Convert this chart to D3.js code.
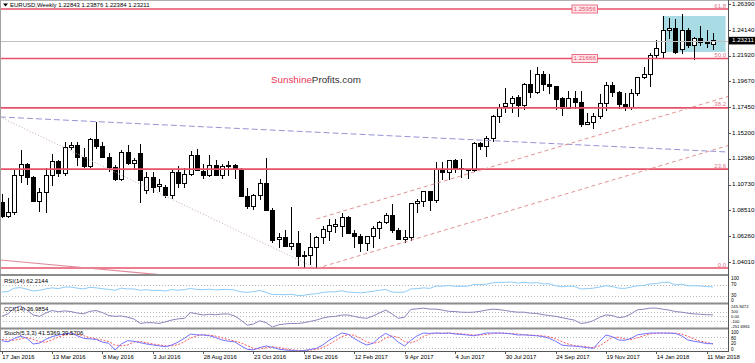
<!DOCTYPE html>
<html>
<head>
<meta charset="utf-8">
<script src="https://cdn.jsdelivr.net/npm/d3@7"></script>
<style>
  html, body { margin: 0; padding: 0; background: #fff; }
  svg { display: block; font-family: "Liberation Sans", Arial, sans-serif; }
</style>
</head>
<body>
<div id="chart"></div>
<script>
// EURUSD weekly bars, 17 Jan 2016 .. 18 Mar 2018 (114 bars)
const opens = [1.0915,1.0795,1.0830,1.1155,1.1250,1.1130,1.0930,1.1000,1.1155,1.1270,
  1.1165,1.1395,1.1415,1.1305,1.1225,1.1460,1.1400,1.1310,1.1220,1.1120,
  1.1355,1.1255,1.1338,1.1020,1.1135,1.1055,1.1045,1.0980,1.1175,1.1085,
  1.1160,1.1325,1.1190,1.1155,1.1235,1.1155,1.1225,1.1240,1.1200,1.0970,
  1.0880,1.0980,1.1085,1.0845,1.0592,1.0610,1.0535,1.0560,1.0450,1.0460,
  1.0525,1.0615,1.0665,1.0710,1.0705,1.0790,1.0645,1.0625,1.0565,1.0620,
  1.0690,1.0745,1.0805,1.0670,1.0595,1.0615,1.0905,1.0925,1.1010,1.0935,
  1.1205,1.1180,1.1280,1.1210,1.1200,1.1195,1.1425,1.1400,1.1475,1.1665,
  1.1750,1.1775,1.1830,1.1760,1.1940,1.1875,1.2025,1.1940,1.1920,1.1815,
  1.1735,1.1815,1.1785,1.1595,1.1610,1.1660,1.1775,1.1935,1.1870,1.1770,
  1.1745,1.1860,1.2000,1.2025,1.2195,1.2215,1.2410,1.2430,1.2245,1.2410,
  1.2283,1.2344,1.2309,1.22843];
const highs = [1.0990,1.0960,1.1200,1.1376,1.1260,1.1150,1.1045,1.1218,1.1342,1.1290,
  1.1440,1.1440,1.1440,1.1390,1.1475,1.1615,1.1445,1.1350,1.1245,1.1375,
  1.1415,1.1300,1.1428,1.1180,1.1185,1.1120,1.1070,1.1195,1.1235,1.1220,
  1.1365,1.1380,1.1250,1.1330,1.1285,1.1255,1.1280,1.1250,1.1215,1.1040,
  1.0990,1.1125,1.1300,1.0870,1.0650,1.0680,1.0874,1.0670,1.0500,1.0655,
  1.0630,1.0715,1.0775,1.0775,1.0830,1.0800,1.0680,1.0640,1.0630,1.0715,
  1.0760,1.0830,1.0905,1.0700,1.0680,1.0915,1.0950,1.1020,1.1020,1.1265,
  1.1270,1.1285,1.1295,1.1295,1.1210,1.1445,1.1445,1.1490,1.1680,1.1775,
  1.1910,1.1845,1.1850,1.1950,1.2070,1.2090,1.2055,1.2035,1.1930,1.1830,
  1.1880,1.1880,1.1880,1.1690,1.1690,1.1860,1.1960,1.1960,1.1880,1.1865,
  1.1905,1.2010,1.2090,1.2215,1.2325,1.2538,1.2520,1.2505,1.2555,1.2435,
  1.2355,1.2445,1.2410,1.23876];
const lows = [1.0780,1.0780,1.0810,1.1090,1.1070,1.0920,1.0835,1.0822,1.1060,1.1140,
  1.1145,1.1370,1.1235,1.1215,1.1215,1.1385,1.1300,1.1185,1.1100,1.1100,
  1.1240,1.1210,1.0912,1.0990,1.1000,1.1005,1.0955,1.0950,1.1045,1.1045,
  1.1150,1.1190,1.1120,1.1140,1.1150,1.1120,1.1150,1.1125,1.0965,1.0860,
  1.0855,1.0940,1.0840,1.0570,1.0518,1.0530,1.0505,1.0365,1.0352,1.0375,
  1.0340,1.0560,1.0580,1.0655,1.0620,1.0640,1.0520,1.0490,1.0495,1.0525,
  1.0600,1.0730,1.0650,1.0590,1.0570,1.0580,1.0825,1.0880,1.0840,1.0915,
  1.1110,1.1110,1.1170,1.1130,1.1120,1.1180,1.1370,1.1310,1.1440,1.1610,
  1.1690,1.1690,1.1660,1.1720,1.1825,1.1860,1.1880,1.1860,1.1720,1.1670,
  1.1730,1.1730,1.1575,1.1590,1.1555,1.1640,1.1715,1.1830,1.1730,1.1715,
  1.1720,1.1845,1.1990,1.1915,1.2165,1.2165,1.2335,1.2205,1.2205,1.2260,
  1.2155,1.2275,1.2257,1.22384];
const closes = [1.0795,1.0830,1.1155,1.1250,1.1130,1.0930,1.1000,1.1155,1.1270,1.1165,
  1.1395,1.1415,1.1305,1.1225,1.1460,1.1400,1.1310,1.1220,1.1120,1.1355,
  1.1255,1.1285,1.1110,1.1135,1.1050,1.1070,1.0980,1.1175,1.1085,1.1160,
  1.1325,1.1195,1.1155,1.1235,1.1155,1.1225,1.1240,1.1200,1.0970,1.0880,
  1.0980,1.1085,1.0845,1.0590,1.0610,1.0535,1.0560,1.0450,1.0460,1.0525,
  1.0610,1.0680,1.0715,1.0725,1.0790,1.0650,1.0625,1.0565,1.0620,1.0690,
  1.0745,1.0805,1.0670,1.0595,1.0615,1.0905,1.0925,1.1010,1.0935,1.1205,
  1.1180,1.1280,1.1210,1.1200,1.1195,1.1425,1.1400,1.1475,1.1665,1.1745,
  1.1775,1.1820,1.1760,1.1940,1.1875,1.2025,1.1940,1.1925,1.1810,1.1735,
  1.1815,1.1785,1.1590,1.1612,1.1660,1.1775,1.1935,1.1870,1.1770,1.1745,
  1.1860,1.2000,1.2025,1.2195,1.2255,1.2410,1.2430,1.2215,1.2410,1.2283,
  1.2344,1.2309,1.2292,1.23211];

// indicator readings, one per bar
const rsi = [43,45,58,60,54,47,50,55,59,56, 62,62,58,55,61,59,56,53,50,58,
  55,55,50,52,49,50,47,53,50,52, 57,53,52,54,51,53,53,51,44,42,
  45,49,42,34,34,33,35,30,31,35, 37,42,44,44,48,43,42,40,43,46,
  50,53,43,42,43,55,56,59,57,66, 65,68,65,65,65,72,71,73,78,80,
  80,81,77,80,77,79,74,74,67,63, 66,64,55,56,58,62,67,64,58,57,
  62,67,68,74,75,80,80,70,73,67, 67,66,64,62.2144];
const cci = [0,60,200,245.9472,150,34,0,80,138,110, 130,114,80,60,120,138,90,20,0,10,
  -20,-60,-168,-150,-150,-168,-130,-87,-60,-46, 90,60,34,50,40,55,58,10,-87,-209,
  -180,-104,-150,-251.6961,-200,-180,-168,-170,-150,-120, -87,-40,-10,0,30,34,0,-30,-46,10,
  80,150,60,-46,-20,165,180,196,172,172, 150,120,114,100,95,100,120,150,172,160,
  140,114,100,100,75,70,40,20,0,-30, -60,-90,-168,-150,-100,-20,34,20,-30,-10,
  60,155,170,196,196,170,150,114,100,75, 60,50,40,36.9854];
const stochMain = [58,52,70,83,71,40,45,65,80,89, 95,100,85,71,68,65,50,44,7,40,
  58,55,47,40,35,30,25,34,50,71, 94,90,89,85,75,62,55,52,30,11,
  8,20,29,22,12,7,5,2,4,10, 16,34,60,80,100,94,70,50,34,44,
  75,98,80,50,29,60,85,100,98,100, 98,100,95,92,89,85,92,100,100,100,
  98,95,89,90,87,85,80,71,55,34, 30,28,25,20,16,55,89,80,62,60,
  71,90,95,100,100,100,99,98,85,62, 55,49,42,41.5369];
const stochSignal = [65,62,60,68,75,65,52,50,63,78, 88,94,93,85,75,68,61,53,34,30,
  35,51,53,47,40,35,30,30,36,52, 72,85,91,88,83,74,64,56,46,31,
  16,13,19,24,21,14,8,5,4,7, 10,20,37,58,80,91,88,71,51,43,
  51,72,84,76,53,46,58,82,94,99, 99,99,98,96,92,89,89,92,97,100,
  99,98,94,91,89,87,84,79,69,53, 40,31,28,24,20,30,53,75,77,67,
  64,74,85,95,98,100,100,99,94,82, 67,55,49,39.5706];

// axis labels
const priceTicks = [1.26390,1.24140,1.21920,1.19670,1.17450,1.15200,1.12980,1.10730,1.08510,1.06260,1.04010];
const dateTicks = ['17 Jan 2016','13 Mar 2016','8 May 2016','3 Jul 2016','28 Aug 2016','23 Oct 2016',
  '18 Dec 2016','12 Feb 2017','9 Apr 2017','4 Jun 2017','30 Jul 2017','24 Sep 2017',
  '19 Nov 2017','14 Jan 2018','11 Mar 2018'];

// fibonacci retracement levels
const fibNames = ['61.8','50.0','38.2','23.6','0.0'];
const fibPrices = [1.25956,1.21666,1.17376,1.12068,1.03488];
const fibTagged = [1.25956,1.21666];

// consolidation box (bar index range, price range)
const boxIdx = [105,115];
const boxPrice = [1.2535,1.2223];

const lastPrice = 1.23211;
const lastBar = [1.22843,1.23876,1.22384,1.23211];

const W = 755, H = 363;
const plotRight = 728;

const svg = d3.select('#chart').append('svg')
  .attr('width', W)
  .attr('height', H);

svg.append('rect').attr('width', W).attr('height', H).attr('fill', '#fff');

// Scales
const x = d3.scaleLinear().domain([0, 113]).range([1.7, 713.0]);
const y = d3.scaleLinear().domain([1.03488, 1.25956]).range([268, 9]);
const rsiY = d3.scaleLinear().domain([0, 100]).range([303.5, 277]);
const cciY = d3.scaleLinear().domain(d3.extent(cci)).range([327, 306]);
const stY = d3.scaleLinear().domain([0, 100]).range([351.3, 333]);

const defs = svg.append('defs');
const clip = (id, y0, y1) => defs.append('clipPath').attr('id', id)
  .append('rect').attr('x', 0).attr('y', y0).attr('width', plotRight).attr('height', y1 - y0);
clip('clipMain', 1, 274);
clip('clipRsi', 276, 302.5);
clip('clipCci', 304.5, 327.5);
clip('clipSt', 329.5, 351);

const main = svg.append('g').attr('clip-path', 'url(#clipMain)');

// Box drawn in the background
main.append('rect')
  .attr('x', x(boxIdx[0]))
  .attr('width', x(boxIdx[1]) - x(boxIdx[0]))
  .attr('y', y(boxPrice[0]))
  .attr('height', y(boxPrice[1]) - y(boxPrice[0]))
  .attr('fill', '#a9dbe4');

// Candles
const bars = opens.map((o, i) => ({ i, o, h: highs[i], l: lows[i], c: closes[i] }));
const cg = main.append('g').attr('shape-rendering', 'crispEdges');
cg.selectAll('line').data(bars).join('line')
  .attr('x1', d => Math.round(x(d.i)) + 0.5)
  .attr('x2', d => Math.round(x(d.i)) + 0.5)
  .attr('y1', d => y(d.h))
  .attr('y2', d => y(d.l))
  .attr('stroke', '#000');
cg.selectAll('rect').data(bars).join('rect')
  .attr('x', d => Math.round(x(d.i)) - 1.5)
  .attr('width', 4)
  .attr('y', d => y(Math.max(d.o, d.c)))
  .attr('height', d => Math.max(0.5, Math.abs(y(d.o) - y(d.c))))
  .attr('fill', d => d.c >= d.o ? '#fff' : '#000')
  .attr('stroke', '#000');

// Horizontal levels
main.append('line')
  .attr('x1', 0).attr('x2', plotRight)
  .attr('y1', Math.round(y(lastPrice)) + 0.5).attr('y2', Math.round(y(lastPrice)) + 0.5)
  .attr('stroke', '#c0c0c0');

main.selectAll('.fib').data(fibPrices).join('line')
  .attr('class', 'fib')
  .attr('x1', 0).attr('x2', plotRight)
  .attr('y1', d => y(d)).attr('y2', d => y(d))
  .attr('stroke', '#e8506a')
  .attr('stroke-width', 1.6);

// Trend lines: two anchors (bar index, price); ray = extend to the right edge
const rightIdx = x.invert(plotRight);
const leftIdx = x.invert(0);
const trendLines = [
  { a: [leftIdx, 1.16588], b: [113, 1.13612], ray: true, color: '#9494d6', dash: '6,3', w: 1 },
  { a: [leftIdx, 1.16588], b: [50, 1.0345], ray: false, color: '#c9aaaa', dash: '1,2', w: 1 },
  { a: [leftIdx, 1.04182], b: [24, 1.02967], ray: true, color: '#e2899a', dash: null, w: 1.2 },
  { a: [50, 1.0774], b: [113, 1.1798], ray: true, color: '#e39494', dash: '4,3', w: 1 },
  { a: [50, 1.0345], b: [113, 1.1372], ray: true, color: '#e39494', dash: '4,3', w: 1 }
];
trendLines.forEach(t => {
  let end = t.b;
  if (t.ray) {
    const slope = (t.b[1] - t.a[1]) / (t.b[0] - t.a[0]);
    end = [rightIdx, t.a[1] + slope * (rightIdx - t.a[0])];
  }
  main.append('line')
    .attr('x1', x(t.a[0])).attr('y1', y(t.a[1]))
    .attr('x2', x(end[0])).attr('y2', y(end[1]))
    .attr('stroke', t.color)
    .attr('stroke-width', t.w)
    .attr('stroke-dasharray', t.dash);
});

// Fib level names on the right edge
main.selectAll('.fibname').data(fibPrices).join('text')
  .attr('class', 'fibname')
  .attr('x', plotRight - 2)
  .attr('y', d => y(d) - 1.5)
  .attr('text-anchor', 'end')
  .attr('font-size', 6)
  .attr('fill', '#e0788a')
  .text((d, i) => fibNames[i]);

// Price tags on two fib lines
fibTagged.forEach(p => {
  const g = main.append('g');
  const t = g.append('text')
    .attr('x', x(90.6) + 1.5)
    .attr('y', y(p))
    .attr('dominant-baseline', 'middle')
    .attr('font-size', 6.2)
    .attr('fill', '#e8506a')
    .text(d3.format('.5f')(p));
  const wdt = t.node().getComputedTextLength();
  g.insert('rect', 'text')
    .attr('x', x(90.6)).attr('y', y(p) - 4)
    .attr('width', wdt + 3).attr('height', 8)
    .attr('fill', '#fde6ea')
    .attr('stroke', '#e8506a')
    .attr('stroke-width', 0.8);
});

// Watermark
const logo = svg.append('text')
  .attr('x', 271).attr('y', 82.5)
  .attr('font-size', 9.8);
logo.append('tspan').attr('fill', '#e8385a').text('Sunshine');
logo.append('tspan').attr('fill', '#333').text('Profits.com');

// Title
svg.append('path').attr('d', 'M3,3.5 L8,3.5 L5.5,6.5 Z').attr('fill', '#000');
svg.append('text')
  .attr('x', 10).attr('y', 5.5)
  .attr('dominant-baseline', 'middle')
  .attr('font-size', 6)
  .attr('fill', '#000')
  .text('EURUSD,Weekly  ' + lastBar.map(d3.format('.5f')).join(' '));

// Indicator panels
const line = (scale, data) => d3.line().x((d, i) => x(i)).y(d => scale(d))(data);

function levels(scale, vals, clipId) {
  svg.append('g').attr('clip-path', `url(#${clipId})`)
    .selectAll('line').data(vals).join('line')
    .attr('x1', 0).attr('x2', plotRight)
    .attr('y1', d => Math.round(scale(d)) + 0.5).attr('y2', d => Math.round(scale(d)) + 0.5)
    .attr('stroke', '#b8b8b8')
    .attr('stroke-dasharray', '1,2');
}
levels(rsiY, [70, 30], 'clipRsi');
levels(cciY, [100, 0, -100], 'clipCci');
levels(stY, [80, 20], 'clipSt');

svg.append('path').attr('clip-path', 'url(#clipRsi)')
  .attr('d', line(rsiY, rsi)).attr('fill', 'none').attr('stroke', '#8ccaf5');
svg.append('path').attr('clip-path', 'url(#clipCci)')
  .attr('d', line(cciY, cci)).attr('fill', 'none').attr('stroke', '#8a84bd');
svg.append('path').attr('clip-path', 'url(#clipSt)')
  .attr('d', line(stY, stochSignal)).attr('fill', 'none').attr('stroke', '#ff5a5a')
  .attr('stroke-dasharray', '2,1.5');
svg.append('path').attr('clip-path', 'url(#clipSt)')
  .attr('d', line(stY, stochMain)).attr('fill', 'none').attr('stroke', '#7272ff');

const panelText = [
  ['RSI(14) ' + rsi[113].toFixed(4), 281],
  ['CCI(14) ' + cci[113].toFixed(4), 309.5],
  ['Stoch(5,3,3) ' + stochMain[113].toFixed(4) + ' ' + stochSignal[113].toFixed(4), 333.5]
];
svg.selectAll('.ptxt').data(panelText).join('text')
  .attr('class', 'ptxt')
  .attr('x', 4).attr('y', d => d[1])
  .attr('dominant-baseline', 'middle')
  .attr('font-size', 6)
  .attr('fill', '#000')
  .text(d => d[0]);

// Panel frames and separators
svg.append('line').attr('x1', 0).attr('x2', W).attr('y1', 0.5).attr('y2', 0.5).attr('stroke', '#b0b0b0');
svg.append('line').attr('x1', 0.5).attr('x2', 0.5).attr('y1', 0).attr('y2', 351).attr('stroke', '#a0a0a0');
[[274, 2], [302.5, 2], [327.5, 2]].forEach(([yy, h]) => {
  svg.append('rect').attr('x', 0).attr('y', yy).attr('width', plotRight).attr('height', h).attr('fill', '#8c8c8c');
});
svg.append('line').attr('x1', 0).attr('x2', plotRight + 1).attr('y1', 351.5).attr('y2', 351.5).attr('stroke', '#555');
svg.append('line').attr('x1', plotRight + 0.5).attr('x2', plotRight + 0.5).attr('y1', 0).attr('y2', 352).attr('stroke', '#555');

// Right price axis
const ax = svg.append('g');
ax.selectAll('line').data(priceTicks).join('line')
  .attr('x1', plotRight).attr('x2', plotRight + 3)
  .attr('y1', d => Math.round(y(d)) + 0.5).attr('y2', d => Math.round(y(d)) + 0.5)
  .attr('stroke', '#555');
ax.selectAll('text').data(priceTicks).join('text')
  .attr('x', plotRight + 4)
  .attr('y', d => y(d))
  .attr('dominant-baseline', 'middle')
  .attr('font-size', 6.2)
  .attr('fill', '#000')
  .text(d => d3.format('.5f')(d));

// Current price tag
svg.append('rect')
  .attr('x', plotRight + 1).attr('y', y(lastPrice) - 3.8)
  .attr('width', W - plotRight - 1).attr('height', 7.6)
  .attr('fill', '#000');
svg.append('text')
  .attr('x', plotRight + 4).attr('y', y(lastPrice))
  .attr('dominant-baseline', 'middle')
  .attr('font-size', 6.2)
  .attr('fill', '#fff')
  .text(d3.format('.5f')(lastPrice));

// Indicator scale labels, pushed apart so they do not collide
function spread(ys, top, bottom, gap) {
  const r = ys.map(v => Math.min(bottom, Math.max(top, v)));
  for (let k = 1; k < r.length; k++) r[k] = Math.max(r[k], r[k - 1] + gap);
  r[r.length - 1] = Math.min(r[r.length - 1], bottom);
  for (let k = r.length - 2; k >= 0; k--) r[k] = Math.min(r[k], r[k + 1] - gap);
  return r;
}
function sideLabels(scale, vals, top, bottom, size, fmt) {
  const pos = spread(vals.map(scale), top, bottom, size * 1.2);
  svg.append('g').selectAll('text').data(vals).join('text')
    .attr('x', plotRight + 3)
    .attr('y', (d, k) => pos[k])
    .attr('dominant-baseline', 'middle')
    .attr('font-size', size)
    .attr('fill', '#000')
    .text(fmt);
}
sideLabels(rsiY, [100, 70, 30, 0], 279, 301, 4.8, d => d);
sideLabels(cciY, [cciY.domain()[1], 100, 0, -100, cciY.domain()[0]], 307.2, 327.6, 4.2,
  d => (d === 0 ? '0.00' : Math.abs(d) === 100 ? d : d.toFixed(4)));
sideLabels(stY, [100, 80, 20, 0], 332.4, 349.4, 4.6, d => d);

// Date axis
const dg = svg.append('g');
dg.selectAll('line').data(dateTicks).join('line')
  .attr('x1', (d, k) => Math.round(x(k * 8)) + 0.5)
  .attr('x2', (d, k) => Math.round(x(k * 8)) + 0.5)
  .attr('y1', 351).attr('y2', 354)
  .attr('stroke', '#555');
dg.selectAll('text').data(dateTicks).join('text')
  .attr('x', (d, k) => x(k * 8) + 0.5)
  .attr('y', 357.5)
  .attr('dominant-baseline', 'middle')
  .attr('font-size', 5.9)
  .attr('fill', '#000')
  .text(d => d);
</script>
</body>
</html>
